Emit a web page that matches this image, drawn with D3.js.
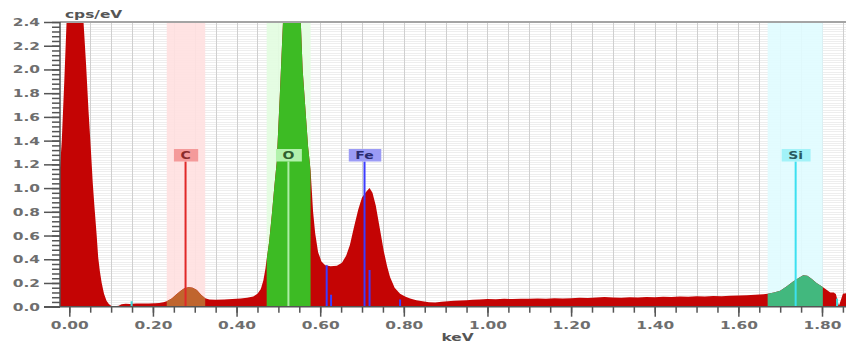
<!DOCTYPE html>
<html><head><meta charset="utf-8">
<script src="https://cdn.jsdelivr.net/npm/d3@7/dist/d3.min.js"></script>
<style>
html,body{margin:0;padding:0;background:#fff;}
svg{display:block;}
text{font-family:"DejaVu Sans",Verdana,sans-serif;font-weight:bold;}
</style></head>
<body>
<svg id="chart" width="846" height="343"></svg>
<script>
// ---- data ----
const specKeV = [-0.025,-0.022,-0.018,-0.012,-0.006,0.000,0.010,0.020,0.028,0.034,0.040,0.046,0.052,0.056,0.060,0.0655,0.069,0.073,0.0775,0.083,0.089,0.095,0.101,0.110,0.118,0.125,0.135,0.145,0.150,0.160,0.175,0.190,0.205,0.215,0.225,0.233,0.245,0.255,0.265,0.275,0.285,0.295,0.305,0.315,0.325,0.335,0.350,0.370,0.390,0.410,0.425,0.440,0.450,0.458,0.464,0.469,0.472,0.478,0.485,0.490,0.496,0.503,0.511,0.520,0.533,0.545,0.552,0.558,0.565,0.571,0.577,0.583,0.588,0.595,0.603,0.612,0.625,0.640,0.652,0.662,0.671,0.680,0.691,0.700,0.710,0.718,0.725,0.733,0.743,0.752,0.760,0.767,0.778,0.791,0.803,0.815,0.830,0.845,0.860,0.875,0.890,0.905,0.920,0.935,0.950,0.965,0.980,1.000,1.020,1.040,1.060,1.080,1.100,1.120,1.140,1.160,1.180,1.200,1.220,1.240,1.260,1.280,1.300,1.320,1.340,1.360,1.380,1.400,1.420,1.440,1.460,1.480,1.500,1.520,1.540,1.560,1.580,1.600,1.620,1.640,1.660,1.670,1.685,1.700,1.715,1.730,1.745,1.755,1.765,1.775,1.787,1.800,1.810,1.820,1.828,1.832,1.833,1.840,1.841,1.850,1.860];
const specCps = [1.10,1.18,1.40,1.90,2.45,2.90,3.20,3.00,2.70,2.40,2.05,1.65,1.30,1.05,0.85,0.60,0.42,0.30,0.20,0.11,0.05,0.02,0.005,0.003,0.008,0.02,0.025,0.022,0.025,0.028,0.026,0.027,0.030,0.032,0.038,0.045,0.07,0.10,0.13,0.155,0.165,0.16,0.14,0.10,0.072,0.06,0.058,0.06,0.065,0.07,0.075,0.085,0.11,0.15,0.22,0.32,0.40,0.55,0.80,1.00,1.22,1.75,2.40,3.50,4.20,3.30,2.55,2.00,1.65,1.35,1.15,0.80,0.62,0.46,0.38,0.35,0.34,0.345,0.37,0.43,0.52,0.66,0.82,0.92,0.97,1.00,0.96,0.85,0.65,0.47,0.34,0.25,0.16,0.11,0.085,0.07,0.055,0.045,0.038,0.036,0.042,0.046,0.05,0.052,0.055,0.058,0.06,0.065,0.062,0.066,0.064,0.068,0.066,0.07,0.068,0.072,0.07,0.072,0.075,0.073,0.078,0.082,0.078,0.076,0.08,0.078,0.082,0.08,0.084,0.082,0.086,0.084,0.088,0.086,0.09,0.088,0.092,0.094,0.096,0.10,0.105,0.11,0.12,0.135,0.17,0.21,0.245,0.265,0.26,0.235,0.20,0.17,0.145,0.12,0.12,0.11,0.11,0.012,0.012,0.11,0.115,0.11];

const elements = ["C","O","Fe","Si"];
const elemKeV = [0.278,0.524,0.706,1.737];
const bandLo = [0.233,0.472,null,1.670];
const bandHi = [0.325,0.577,null,1.802];
const bandColors = ["#ffe0e0","#e2fde0",null,"#e0fcff"];
const peakColors = ["#c0652e","#3dbb24",null,"#42b87e"];
const lineColors = ["#e02828","#aeeea6","#3c3cff","#3ce0f0"];
const boxColors = ["#f49a9a","#b2f2ac","#9b9bf5","#a2f2f8"];
const textColors = ["#8a2a2a","#2f5f2f","#2a2a70","#2a5a60"];

const feLinesKeV = [0.6155,0.626,0.718,0.791];
const feLinesCps = [0.35,0.10,0.31,0.06];
const escKeV = [0.149,1.836];
const escCps = [0.045,0.07];

const xMajor = [0,0.2,0.4,0.6,0.8,1.0,1.2,1.4,1.6,1.8];
const yMajor = [0,0.2,0.4,0.6,0.8,1.0,1.2,1.4,1.6,1.8,2.0,2.2,2.4];

// ---- layout ----
const svg = d3.select("#chart");
const L=60, R=846, T=22, B=306.7;
const x = d3.scaleLinear().domain([0,1.8]).range([69.3,822]);
const y = d3.scaleLinear().domain([0,2.4]).range([B,T]);
const SX = 1.4;

svg.append("defs").append("clipPath").attr("id","plotclip")
  .append("rect").attr("x",L).attr("y",T).attr("width",R-L).attr("height",B-T);

const plot = svg.append("g").attr("clip-path","url(#plotclip)");

// horizontal grid
const hGrid = d3.range(1,120).map(i=>i*0.02);
plot.append("g").selectAll("line").data(hGrid).join("line")
  .attr("x1",L).attr("x2",R).attr("y1",d=>Math.round(y(d))+0.5).attr("y2",d=>Math.round(y(d))+0.5)
  .attr("stroke","#eeeeee").attr("stroke-width",1);
// vertical grid
const vGrid = d3.range(0,38).map(i=>i*0.05);
plot.append("g").selectAll("line").data(vGrid).join("line")
  .attr("x1",d=>Math.round(x(d))+0.5).attr("x2",d=>Math.round(x(d))+0.5).attr("y1",T).attr("y2",B)
  .attr("stroke","#cfcfcf").attr("stroke-width",1);

// bands
elements.forEach((e,i)=>{
  if(bandLo[i]==null) return;
  plot.append("rect").attr("x",x(bandLo[i])).attr("y",T)
    .attr("width",x(bandHi[i])-x(bandLo[i])).attr("height",B-T)
    .attr("fill",bandColors[i]).attr("opacity",0.9);
});

// spectrum
const spec = specKeV.map((k,i)=>[k,specCps[i]]);
const area = d3.area().x(d=>x(d[0])).y0(y(0)).y1(d=>y(d[1]));
plot.append("path").datum(spec).attr("d",area).attr("fill","#c40404");

const defs = svg.select("defs");
elements.forEach((e,i)=>{
  if(bandLo[i]==null) return;
  defs.append("clipPath").attr("id","band"+i).append("rect")
    .attr("x",x(bandLo[i])).attr("y",0).attr("width",x(bandHi[i])-x(bandLo[i])).attr("height",B);
  plot.append("g").attr("clip-path","url(#band"+i+")")
    .append("path").datum(spec).attr("d",area).attr("fill",peakColors[i]);
});

// Fe extra lines
plot.append("g").selectAll("line").data(feLinesKeV).join("line")
  .attr("x1",d=>x(d)).attr("x2",d=>x(d)).attr("y1",y(0)).attr("y2",(d,i)=>y(feLinesCps[i]))
  .attr("stroke","#3c3cff").attr("stroke-width",2);

// escape markers
plot.append("g").selectAll("line").data(escKeV).join("line")
  .attr("x1",d=>x(d)).attr("x2",d=>x(d)).attr("y1",y(0)).attr("y2",(d,i)=>y(escCps[i]))
  .attr("stroke","#40d8d8").attr("stroke-width",2);

// element lines and labels
const boxTop=149, boxH=12.5;
elements.forEach((e,i)=>{
  const cx = x(elemKeV[i]);
  plot.append("line").attr("x1",cx).attr("x2",cx).attr("y1",y(0)).attr("y2",boxTop+boxH)
    .attr("stroke",lineColors[i]).attr("stroke-width",2);
  const g = svg.append("g").attr("transform",`translate(${cx},${boxTop})`);
  const rect = g.append("rect").attr("y",0).attr("height",boxH).attr("fill",boxColors[i]);
  const t = g.append("text").attr("text-anchor","middle").attr("y",10.2)
    .attr("transform",`scale(${SX},1)`).attr("font-size",10).attr("fill",textColors[i]).text(e);
  const w = t.node().getComputedTextLength()*SX + 14;
  rect.attr("x",-w/2+0.5).attr("width",w);
});

// top border
svg.append("line").attr("x1",L).attr("x2",R).attr("y1",T).attr("y2",T)
  .attr("stroke","#a4a4a4").attr("stroke-width",2);

// x axis
const xMinor = d3.range(0,38).map(i=>i*0.05);
const gxMinor = svg.append("g").attr("transform",`translate(0,${B})`)
  .call(d3.axisBottom(x).tickValues(xMinor.filter(v=>x(v)<=R)).tickSize(6).tickFormat(""));
const gx = svg.append("g").attr("transform",`translate(0,${B})`)
  .call(d3.axisBottom(x).tickValues(xMajor).tickSize(10).tickFormat(d3.format(".2f")));
[gxMinor,gx].forEach(g=>{
  g.select(".domain").remove();
  g.selectAll(".tick line").attr("stroke","#555").attr("stroke-width",1.5);
});
gx.selectAll(".tick text").attr("y",15).attr("font-size",11).attr("fill","#6e6e6e")
  .attr("transform",`scale(${SX},1)`).attr("font-family","DejaVu Sans").attr("font-weight","bold");

// y axis
const yMinor = d3.range(0,61).map(i=>i*0.04);
const gyMinor = svg.append("g").attr("transform",`translate(${L},0)`)
  .call(d3.axisLeft(y).tickValues(yMinor).tickSize(8).tickFormat(""));
const gy = svg.append("g").attr("transform",`translate(${L},0)`)
  .call(d3.axisLeft(y).tickValues(yMajor).tickSize(16).tickFormat(d3.format(".1f")));
[gyMinor,gy].forEach(g=>{
  g.select(".domain").remove();
  g.selectAll(".tick line").attr("stroke","#555").attr("stroke-width",1.5);
});
gy.selectAll(".tick text").attr("x",-20/SX).attr("font-size",11).attr("fill","#6e6e6e")
  .attr("transform",`scale(${SX},1)`).attr("font-family","DejaVu Sans").attr("font-weight","bold");

// axis lines
svg.append("line").attr("x1",44).attr("x2",R).attr("y1",B).attr("y2",B).attr("stroke","#555").attr("stroke-width",1.5);
svg.append("line").attr("x1",L).attr("x2",L).attr("y1",T).attr("y2",B).attr("stroke","#555").attr("stroke-width",1.5);

// axis titles
svg.append("text").attr("transform",`translate(65,17.5) scale(${SX},1)`)
  .attr("font-size",11).attr("fill","#555").text("cps/eV");
svg.append("text").attr("transform",`translate(457.5,340.5) scale(${SX},1)`)
  .attr("text-anchor","middle").attr("font-size",11).attr("fill","#555").text("keV");
</script>
</body></html>
